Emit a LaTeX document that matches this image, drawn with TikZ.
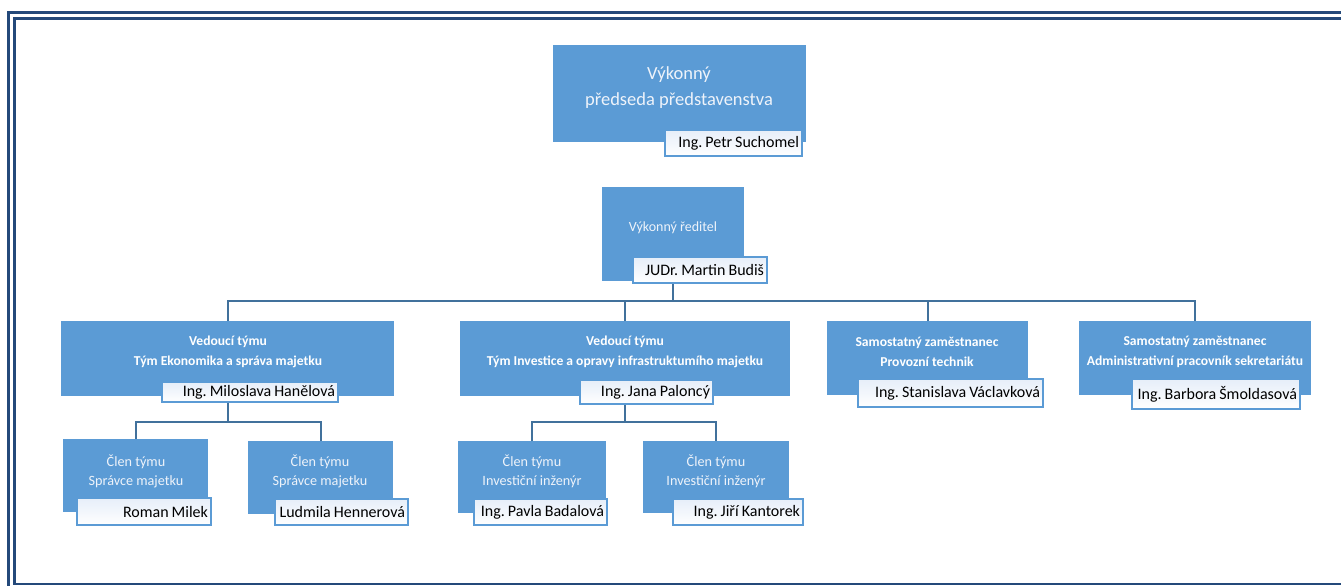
\documentclass[tikz,border=0pt]{standalone}
\usepackage{fontspec}
\setmainfont{Carlito}
\usetikzlibrary{calc}
\frenchspacing
\definecolor{boxblue}{HTML}{5B9BD5}
\definecolor{connblue}{HTML}{41719C}
\definecolor{framenavy}{HTML}{24497A}
\definecolor{titlewhite}{HTML}{EEF3FA}
\definecolor{nametop}{HTML}{E6EEF9}
\newcommand\bbox[5]{%
  \pgfmathsetmacro\bw{#4-#2}\pgfmathsetmacro\bh{#5-#3}%
  \node[bluebox, minimum width=\bw pt, minimum height=\bh pt] (#1) at ({(#2+#4)/2},{(#3+#5)/2}) {};}
\newcommand\nbox[6]{%
  \pgfmathsetmacro\bw{#4-#2}\pgfmathsetmacro\bh{#5-#3}\pgfmathsetmacro\tw{#4-#2-6}%
  \node[namebox, minimum width=\bw pt, minimum height=\bh pt, text width=\tw pt] (#1) at ({(#2+#4)/2},{(#3+#5)/2}) {\spaceskip=0.19em\relax\mbox{#6}};}
\begin{document}
\begin{tikzpicture}[x=1pt,y=-1pt,
  bluebox/.style={fill=boxblue, draw=none, inner sep=0pt, outer sep=0pt},
  namebox/.style={draw=boxblue, line width=1.5pt, top color=nametop, bottom color=white,
    inner xsep=3pt, inner ysep=0pt, align=right, font=\fontsize{16}{17}\selectfont, text=black},
  conn/.style={draw=connblue, line width=2pt},
  frameline/.style={draw=framenavy, line width=2.5pt},
  toptitle/.style={text=titlewhite, align=center, font=\fontsize{18.5}{26}\selectfont},
  sectitle/.style={text=titlewhite, align=center, font=\fontsize{14}{15}\selectfont},
  leadtitle/.style={text=white, align=center, font=\bfseries\fontsize{13.6}{20}\selectfont},
  memtitle/.style={text=titlewhite, align=center, font=\fontsize{14.2}{19.5}\selectfont}]
\useasboundingbox (0,0) rectangle (1341,586);
\clip (0,0) rectangle (1341,586);
\fill[white] (0,0) rectangle (1341,586);
% frame
\draw[frameline] (8.7,12.5) rectangle (1400,650);
\draw[frameline] (14.7,18.7) rectangle (1390,584.2);
% blue boxes
\bbox{b1}{553}{45}{806}{142}
\bbox{b2}{602}{187}{744}{281}
\bbox{bA}{61}{321}{394}{396}
\bbox{bB}{460}{321}{790}{396}
\bbox{bC}{827}{321}{1028}{395}
\bbox{bD}{1079}{321}{1311}{395}
\bbox{bA1}{63}{439}{208}{512}
\bbox{bA2}{248}{441}{393}{514}
\bbox{bB1}{458}{441}{606}{513}
\bbox{bB2}{643}{441}{789}{513}
% connectors
\draw[conn] (bA.north) -- ++(0,-20) -| (bD.north);
\draw[conn] (bB.north) -- ++(0,-20);
\draw[conn] (bC.north) -- ++(0,-20);
\draw[conn] (b2.south) -- ($(bB.north)+(48,-20)$);
\draw[conn] (bA1.north) |- ($(bA.south)+(0,26)$) -| (bA2.north);
\draw[conn] (bA.south) -- ++(0,26);
\draw[conn] (bB1.north) |- ($(bB.south)+(0,26)$) -| (bB2.north);
\draw[conn] (bB.south) -- ++(0,26);
% titles
\node[toptitle] (t1) at (679,88) {Výkonný\\předseda představenstva};
\node[sectitle] (t2) at (673,228) {Výkonný ředitel};
\node[leadtitle] (tA) at (228,352) {Vedoucí týmu\\Tým Ekonomika a správa majetku};
\node[leadtitle] (tB) at (625,352) {Vedoucí týmu\\Tým Investice a opravy infrastruktumího majetku};
\node[leadtitle] (tC) at (927,352) {Samostatný zaměstnanec\\Provozní technik};
\node[leadtitle] (tD) at (1195,352) {Samostatný zaměstnanec\\Administrativní pracovník sekretariátu};
\node[memtitle] (tA1) at (136,471.5) {Člen týmu\\Správce majetku};
\node[memtitle] (tA2) at (320,471.5) {Člen týmu\\Správce majetku};
\node[memtitle] (tB1) at (532,471.5) {Člen týmu\\Investiční inženýr};
\node[memtitle] (tB2) at (716,471.5) {Člen týmu\\Investiční inženýr};
% name boxes
\nbox{n1}{665}{130}{802}{156}{Ing. Petr Suchomel}
\nbox{n2}{633}{257}{767}{283}{JUDr. Martin Budiš}
\nbox{nA}{162}{382}{338}{402}{Ing. Miloslava Hanělová}
\nbox{nB}{580}{380}{713}{404}{Ing. Jana Paloncý}
\nbox{nC}{858}{379}{1043}{407}{Ing. Stanislava Václavková}
\nbox{nD}{1132}{379}{1300}{409}{Ing. Barbora Šmoldasová}
\nbox{nA1}{77}{498}{211}{525}{Roman Milek}
\nbox{nA2}{275}{499}{408}{525}{Ludmila Hennerová}
\nbox{nB1}{474}{499}{607}{525}{Ing. Pavla Badalová}
\nbox{nB2}{673}{499}{803}{525}{Ing. Jiří Kantorek}
\end{tikzpicture}
\end{document}
